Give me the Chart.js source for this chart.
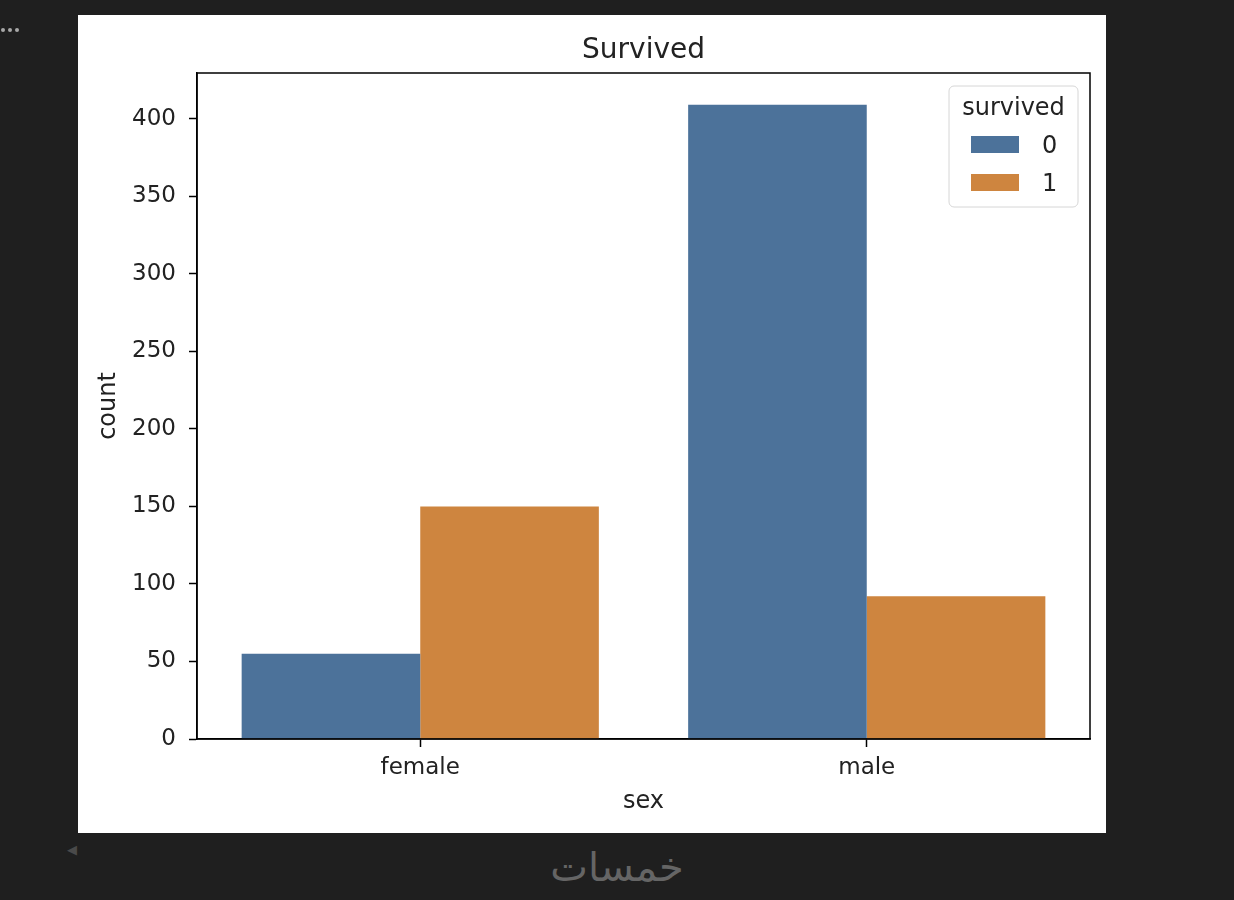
<!DOCTYPE html>
<html>
<head>
<meta charset="utf-8">
<script src="https://cdn.jsdelivr.net/npm/chart.js@4.4.1/dist/chart.umd.min.js"></script>
<style>
  body { margin: 0; background: #1f1f1f; width: 1234px; height: 900px; overflow: hidden; position: relative; font-family: "DejaVu Sans", sans-serif; }
  #panel { position: absolute; left: 78px; top: 15px; width: 1028px; height: 818px; background: #fff; }
  .dot { position: absolute; top: 28px; width: 4px; height: 4px; border-radius: 2px; background: #a8a8a8; }
  #arrow { position: absolute; left: 67px; top: 842px; color: #4a4a4a; font-size: 13px; }
  #brand { position: absolute; left: 0; top: 845px; width: 1234px; text-align: center; color: #656565; font-size: 40px; line-height: 44px; }
</style>
</head>
<body>
<div class="dot" style="left:1px"></div>
<div class="dot" style="left:8px"></div>
<div class="dot" style="left:15px"></div>
<div id="panel"><canvas id="chart"></canvas></div>
<div id="arrow">◀</div>
<div id="brand" dir="rtl">خمسات</div>
<script>
// data
const categories = ["female", "male"];
const hueLabels = ["0", "1"];
const died = [55, 409];
const survived = [150, 92];
const colors = ["#4c729a", "#ce853f"];
const yStep = 50;

Chart.defaults.font.family = "DejaVu Sans";
Chart.defaults.color = "#222";

// title drawn over the plot area (matplotlib centres it on the axes, not the figure)
const axesTitle = {
  id: "axesTitle",
  afterDraw(chart) {
    const { ctx, chartArea } = chart;
    ctx.save();
    ctx.font = "28px 'DejaVu Sans'";
    ctx.fillStyle = "#222";
    ctx.textAlign = "center";
    ctx.textBaseline = "alphabetic";
    ctx.fillText("Survived", (chartArea.left + chartArea.right) / 2, 43);
    ctx.restore();
  },
};

// black frame on all four sides
const frame = {
  id: "frame",
  afterDraw(chart) {
    const { ctx, chartArea: a } = chart;
    ctx.save();
    ctx.strokeStyle = "#000";
    ctx.lineWidth = 1.5;
    ctx.strokeRect(a.left, a.top, a.right - a.left, a.bottom - a.top);
    ctx.restore();
  },
};

// seaborn style legend box in the upper right corner
const hueLegend = {
  id: "hueLegend",
  afterDraw(chart) {
    const { ctx, chartArea: a } = chart;
    const w = 129, h = 121;
    const x = a.right - 12 - w, y = a.top + 13;
    ctx.save();
    ctx.beginPath();
    ctx.roundRect(x, y, w, h, 5);
    ctx.fillStyle = "rgba(255,255,255,0.8)";
    ctx.fill();
    ctx.strokeStyle = "#d6d6d6";
    ctx.lineWidth = 1;
    ctx.stroke();
    ctx.fillStyle = "#222";
    ctx.font = "24px 'DejaVu Sans'";
    ctx.textAlign = "center";
    ctx.fillText("survived", x + w / 2, y + 29);
    chart.data.datasets.forEach((ds, i) => {
      const sy = y + 50 + i * 38;
      ctx.fillStyle = ds.backgroundColor;
      ctx.fillRect(x + 22, sy, 48, 17);
      ctx.fillStyle = "#222";
      ctx.textAlign = "left";
      ctx.fillText(ds.label, x + 93, sy + 17);
    });
    ctx.restore();
  },
};

new Chart(document.getElementById("chart"), {
  type: "bar",
  data: {
    labels: categories,
    datasets: [
      { label: hueLabels[0], data: died, backgroundColor: colors[0], borderWidth: 0 },
      { label: hueLabels[1], data: survived, backgroundColor: colors[1], borderWidth: 0 },
    ],
  },
  options: {
    responsive: true,
    maintainAspectRatio: false,
    animation: false,
    devicePixelRatio: 1,
    layout: { padding: { top: 58, right: 16, left: 0, bottom: 0 } },
    datasets: { bar: { categoryPercentage: 0.8, barPercentage: 1.0 } },
    plugins: {
      legend: { display: false },
      tooltip: { enabled: false },
      title: { display: false },
    },
    scales: {
      x: {
        offset: true,
        grid: { display: true, drawOnChartArea: false, drawTicks: true, tickLength: 8, tickColor: "#000", tickWidth: 1.5, offset: false },
        border: { display: true, color: "#000", width: 1.5 },
        ticks: { font: { size: 23 }, color: "#222", padding: 7 },
        title: { display: true, text: "sex", font: { size: 24 }, color: "#222", padding: { top: 0, bottom: 17 } },
        afterFit: (s) => { s.height = 94; },
      },
      y: {
        min: 0,
        max: Math.max(...died, ...survived) * 1.05,
        grid: { display: true, drawOnChartArea: false, drawTicks: true, tickLength: 8, tickColor: "#000", tickWidth: 1.5 },
        border: { display: true, color: "#000", width: 1.5 },
        ticks: { stepSize: yStep, includeBounds: false, font: { size: 23 }, color: "#222", padding: 13 },
        title: { display: true, text: "count", font: { size: 24 }, color: "#222", padding: { top: 16, bottom: 0 } },
        afterFit: (s) => { s.width = 119; },
      },
    },
  },
  plugins: [axesTitle, frame, hueLegend],
});
</script>
</body>
</html>
